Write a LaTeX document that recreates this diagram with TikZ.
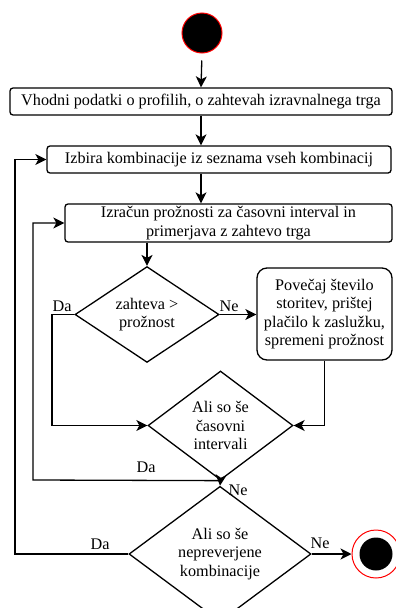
\documentclass[tikz,border=0pt]{standalone}
\usepackage{fontspec}
\setmainfont{Liberation Serif}
\usetikzlibrary{shapes.geometric,arrows.meta,calc}
\begin{document}
\begin{tikzpicture}[x=1pt,y=-1pt,
  font=\fontsize{16.2}{18.5}\selectfont,
  every path/.style={line width=1.3pt},
  arr/.style={-{Stealth[length=11pt,width=11pt,inset=3pt]}},
  box/.style={draw,rounded corners=3pt,inner sep=0pt,align=center},
  dec/.style={draw,diamond,inner sep=0pt,align=center},
  lbl/.style={inner sep=0pt}]
\useasboundingbox (0,0) rectangle (396,608);
\node[circle,fill=black,draw=red,line width=1pt,minimum size=40pt,inner sep=0pt] (start) at (202,33) {};
\node[box,minimum width=382pt,minimum height=27pt] (b1) at (201,101.5) {Vhodni podatki o profilih, o zahtevah izravnalnega trga};
\node[box,minimum width=344pt,minimum height=27pt] (b2) at (219,159.5) {Izbira kombinacije iz seznama vseh kombinacij};
\node[box,minimum width=327pt,minimum height=38pt] (b3) at (228.5,223) {Izračun prožnosti za časovni interval in\\primerjava z zahtevo trga};
\node[dec,minimum width=144pt,minimum height=73pt] (d1) at (147,314.5) {zahteva >\\prožnost};
\node[box,rounded corners=10pt,minimum width=135pt,minimum height=92pt] (b4) at (324.5,314) {Povečaj število\\storitev, prištej\\plačilo k zaslužku,\\spremeni prožnost};
\node[dec,minimum width=145pt,minimum height=109pt] (d2) at (220.5,425.5) {Ali so še\\časovni\\intervali};
\node[dec,minimum width=182pt,minimum height=108pt] (d3) at (220,554) {Ali so še\\nepreverjene\\kombinacije};
\node[circle,draw=red,line width=1pt,fill=white,minimum size=48pt,inner sep=0pt] (end) at (376,554) {};
\node[circle,fill=black,minimum size=33pt,inner sep=0pt] at (end) {};

\draw[arr,shorten <=7pt] (start.south) -- (b1.north);
\draw[arr] (b1.south) -- (b1.south |- b2.north);
\draw[arr] (b1.south |- b2.south) -- (b1.south |- b3.north);
\draw[arr] (d1.north |- b3.south) -- (d1.north);
\coordinate (c1) at (52,314.5);
\draw[arr] (d1.west) -- (c1) |- (d2.west);
\draw[arr] (d1.east) -- (d1.east -| b4.west);
\draw[arr] (b4.south) |- (d2.east);
\draw[arr] (d2.south) -- (d3.north);
\coordinate (c2) at (33,480);
\draw[arr] (d2.south) -- (c2) |- (b3.west);
\coordinate (c3) at (15,554);
\draw[arr] (d3.west) -- (c3) |- (b2.west);
\draw[arr] (d3.east) -- (end.west);

\node[lbl] at (62,306) {Da};
\node[lbl] at (229,306) {Ne};
\node[lbl] at (146,467) {Da};
\node[lbl] at (238,490) {Ne};
\node[lbl] at (100,544) {Da};
\node[lbl] at (320,543) {Ne};
\end{tikzpicture}
\end{document}
